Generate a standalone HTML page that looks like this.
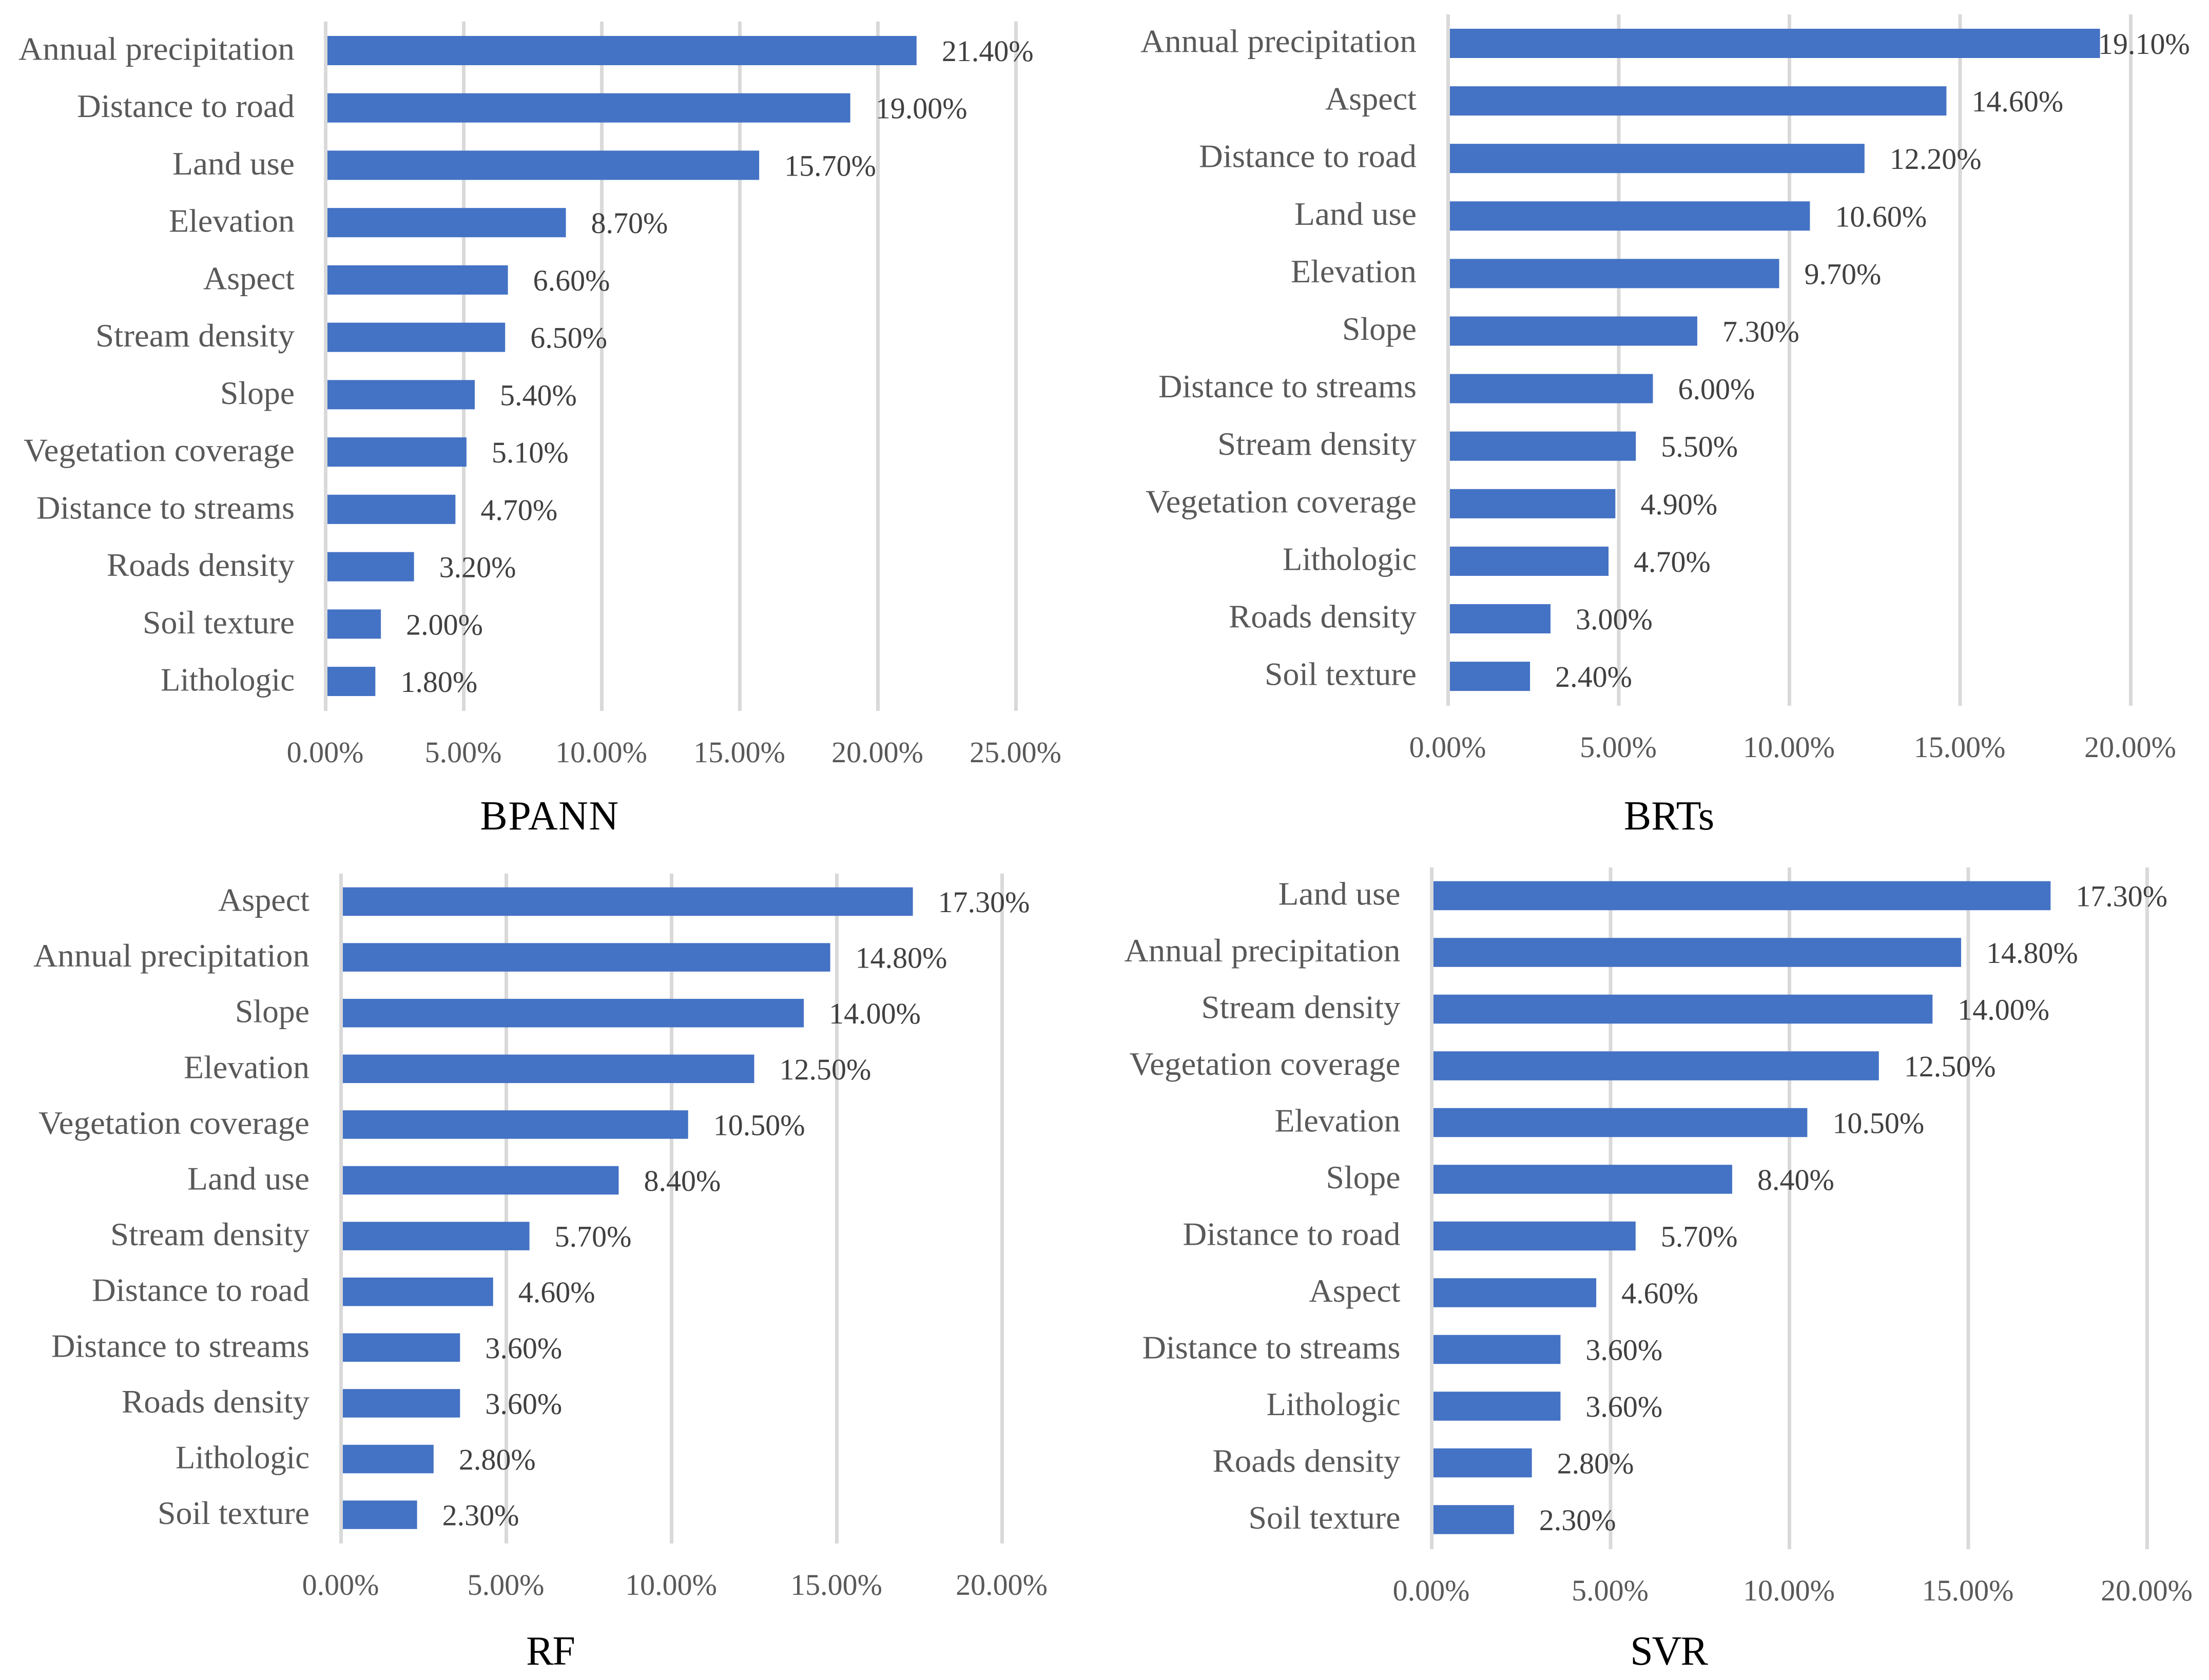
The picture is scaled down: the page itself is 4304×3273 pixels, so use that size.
<!DOCTYPE html>
<html lang="en">
<head>
<meta charset="utf-8">
<title>Factor importance by model</title>
<style>
html,body{margin:0;padding:0;background:#fff;}
svg{display:block;}
text{font-family:"Liberation Serif",serif;}
.cat{font-size:63.5px;fill:#595959;text-anchor:end;}
.val{font-size:58px;fill:#404040;}
.tick{font-size:58px;fill:#595959;text-anchor:middle;}
.title{font-size:80px;fill:#000;text-anchor:middle;}
</style>
</head>
<body>
<svg id="figure" xmlns="http://www.w3.org/2000/svg" width="4304" height="3273" viewBox="0 0 4304 3273">
<rect x="0" y="0" width="4304" height="3273" fill="#ffffff"/>
</svg>
<script>
// ---- Data ----
const bpannCategories = ["Annual precipitation","Distance to road","Land use","Elevation","Aspect","Stream density","Slope","Vegetation coverage","Distance to streams","Roads density","Soil texture","Lithologic"];
const bpannValues = [21.4,19.0,15.7,8.7,6.6,6.5,5.4,5.1,4.7,3.2,2.0,1.8];
const bpannTicks = [0,5,10,15,20,25];

const brtsCategories = ["Annual precipitation","Aspect","Distance to road","Land use","Elevation","Slope","Distance to streams","Stream density","Vegetation coverage","Lithologic","Roads density","Soil texture"];
const brtsValues = [19.1,14.6,12.2,10.6,9.7,7.3,6.0,5.5,4.9,4.7,3.0,2.4];
const brtsTicks = [0,5,10,15,20];

const rfCategories = ["Aspect","Annual precipitation","Slope","Elevation","Vegetation coverage","Land use","Stream density","Distance to road","Distance to streams","Roads density","Lithologic","Soil texture"];
const rfValues = [17.3,14.8,14.0,12.5,10.5,8.4,5.7,4.6,3.6,3.6,2.8,2.3];
const rfTicks = [0,5,10,15,20];

const svrCategories = ["Land use","Annual precipitation","Stream density","Vegetation coverage","Elevation","Slope","Distance to road","Aspect","Distance to streams","Lithologic","Roads density","Soil texture"];
const svrValues = [17.3,14.8,14.0,12.5,10.5,8.4,5.7,4.6,3.6,3.6,2.8,2.3];
const svrTicks = [0,5,10,15,20];

// Rendered text widths for the category labels (typeface metrics only)
const labelWidths = {
  "Annual precipitation":538,"Distance to road":424,"Land use":238,"Elevation":245,
  "Aspect":178,"Stream density":388,"Slope":145,"Vegetation coverage":528,
  "Distance to streams":503,"Roads density":366,"Soil texture":296,"Lithologic":261
};

// ---- Layout of each panel ----
const panels = [
  {key:"bpann",title:"BPANN",categories:bpannCategories,values:bpannValues,ticks:bpannTicks,
   x0:634.5,x5:903.5,top:42,bottom:1385,c0:98.5,pitch:111.73,barH:57,labelRight:574,catDy:18,tickY:1485,titleX:1071,titleY:1616,titleLs:1.5,maxValX:Infinity},
  {key:"brts",title:"BRTs",categories:brtsCategories,values:brtsValues,ticks:brtsTicks,
   x0:2821.5,x5:3154,top:28,bottom:1375,c0:84.5,pitch:112.1,barH:57,labelRight:2760,catDy:17,tickY:1475,titleX:3252,titleY:1616,titleLs:0,maxValX:4088},
  {key:"rf",title:"RF",categories:rfCategories,values:rfValues,ticks:rfTicks,
   x0:664.5,x5:986.5,top:1702,bottom:3007,c0:1756.5,pitch:108.6,barH:55.5,labelRight:603,catDy:18,tickY:3107,titleX:1072,titleY:3243,titleLs:-2,maxValX:Infinity},
  {key:"svr",title:"SVR",categories:svrCategories,values:svrValues,ticks:svrTicks,
   x0:2789.5,x5:3138,top:1690,bottom:3018,c0:1745,pitch:110.5,barH:56.5,labelRight:2728.5,catDy:17.5,tickY:3118,titleX:3251,titleY:3243,titleLs:-2,maxValX:Infinity}
];

const NS = "http://www.w3.org/2000/svg";
const figure = document.getElementById("figure");

function make(tag, attrs, text, parent){
  const el = document.createElementNS(NS, tag);
  for (const k in attrs) el.setAttribute(k, attrs[k]);
  if (text !== undefined) el.textContent = text;
  parent.appendChild(el);
  return el;
}

panels.forEach(function(p){
  const xScale = function(v){ return p.x0 + v * (p.x5 - p.x0) / 5; };
  const yScale = function(i){ return p.c0 + i * p.pitch; };

  const g = make("g", {}, undefined, figure);
  
  

  p.ticks.forEach(function(t){
    const line = make("rect", {x:xScale(t)-3.5, y:p.top, width:7, height:p.bottom-p.top, fill:"#D9D9D9"}, undefined, g);
    
    

    const tick = make("text", {class:"tick", x:xScale(t)-1, y:p.tickY}, t.toFixed(2) + "%", g);
    
    
  });

  p.values.forEach(function(v, i){
    const cy = yScale(i);
    const barStart = xScale(0) + 3.5;
    const barEnd = xScale(v);

    const bar = make("rect", {x:barStart, y:cy-p.barH/2, width:Math.max(0,barEnd-barStart), height:p.barH, fill:"#4472C4"}, undefined, g);
    
    

    const cat = make("text", {class:"cat", x:p.labelRight, y:cy+p.catDy, textLength:labelWidths[p.categories[i]], lengthAdjust:"spacingAndGlyphs"}, p.categories[i], g);
    
    

    const val = make("text", {class:"val", x:Math.min(barEnd+49, p.maxValX), y:cy+20.5}, v.toFixed(2) + "%", g);
    
    
  });

  const title = make("text", {class:"title", x:p.titleX, y:p.titleY, style:"letter-spacing:" + p.titleLs + "px"}, p.title, g);
  
  
});
</script>
</body>
</html>
